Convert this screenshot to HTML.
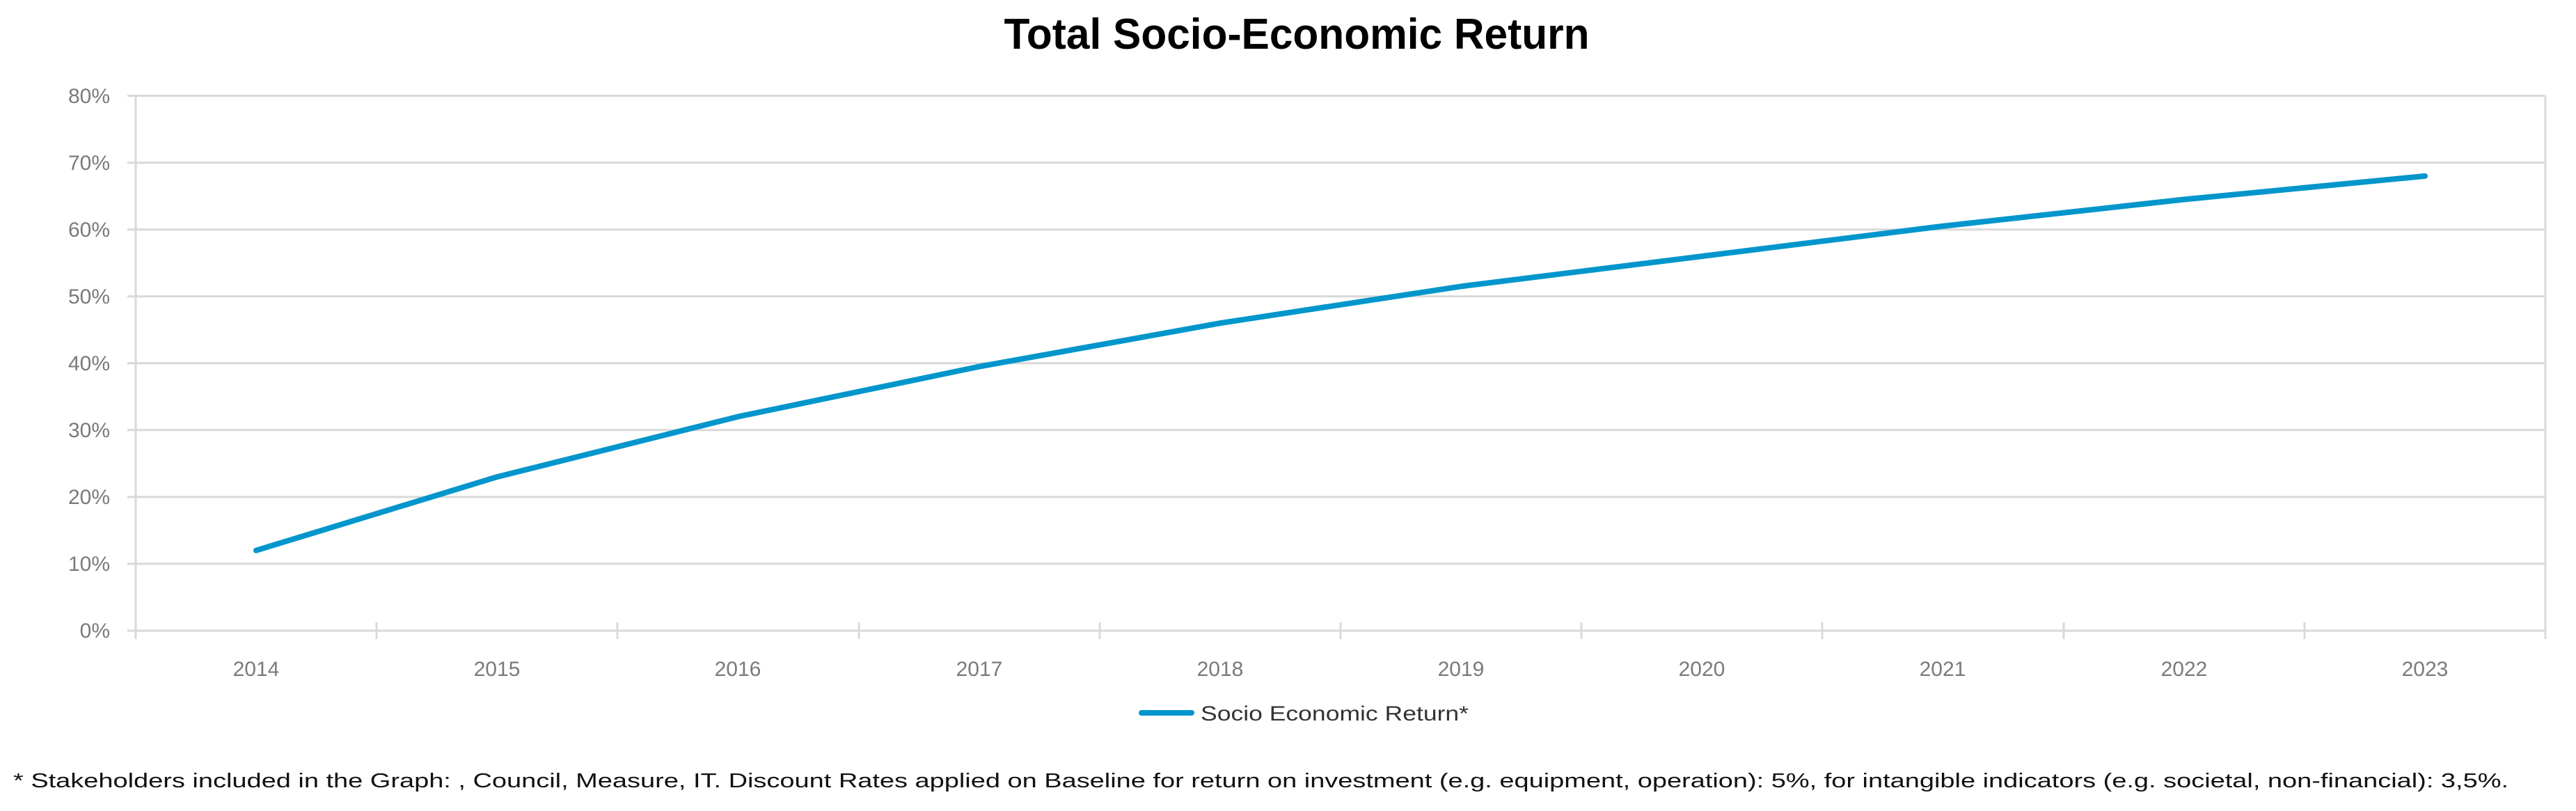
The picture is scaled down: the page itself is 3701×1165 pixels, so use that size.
<!DOCTYPE html>
<html><head><meta charset="utf-8"><style>html,body{margin:0;padding:0;background:#fff}</style></head>
<body>
<svg width="3701" height="1160" viewBox="0 0 3701 1160" xmlns="http://www.w3.org/2000/svg">
<rect width="3701" height="1160" fill="#fff"/>
<text x="1863" y="70" text-anchor="middle" font-family="Liberation Sans, sans-serif" font-weight="bold" font-size="62" textLength="841" lengthAdjust="spacingAndGlyphs" fill="#000">Total Socio-Economic Return</text>
<g stroke="#d9d9d9" stroke-width="3">
<line x1="183" y1="137.6" x2="3657" y2="137.6"/>
<line x1="183" y1="233.7" x2="3657" y2="233.7"/>
<line x1="183" y1="329.7" x2="3657" y2="329.7"/>
<line x1="183" y1="425.8" x2="3657" y2="425.8"/>
<line x1="183" y1="521.8" x2="3657" y2="521.8"/>
<line x1="183" y1="617.8" x2="3657" y2="617.8"/>
<line x1="183" y1="713.9" x2="3657" y2="713.9"/>
<line x1="183" y1="809.9" x2="3657" y2="809.9"/>
<line x1="183" y1="906" x2="3657" y2="906"/>
<line x1="195" y1="137.6" x2="195" y2="918"/>
<line x1="3657" y1="137.6" x2="3657" y2="918"/>
<line x1="541" y1="894" x2="541" y2="918"/><line x1="887" y1="894" x2="887" y2="918"/>
<line x1="1234" y1="894" x2="1234" y2="918"/><line x1="1580" y1="894" x2="1580" y2="918"/>
<line x1="1926" y1="894" x2="1926" y2="918"/><line x1="2272" y1="894" x2="2272" y2="918"/>
<line x1="2618" y1="894" x2="2618" y2="918"/><line x1="2965" y1="894" x2="2965" y2="918"/>
<line x1="3311" y1="894" x2="3311" y2="918"/>
</g>
<g font-family="Liberation Sans, sans-serif" font-size="30" fill="#7a7a7a" text-anchor="end">
<text x="158" y="148">80%</text><text x="158" y="244">70%</text><text x="158" y="340">60%</text>
<text x="158" y="436">50%</text><text x="158" y="532">40%</text><text x="158" y="628">30%</text>
<text x="158" y="724">20%</text><text x="158" y="820">10%</text><text x="158" y="916">0%</text>
</g>
<g font-family="Liberation Sans, sans-serif" font-size="30" fill="#7a7a7a" text-anchor="middle">
<text x="368" y="971">2014</text><text x="714" y="971">2015</text><text x="1060" y="971">2016</text>
<text x="1407" y="971">2017</text><text x="1753" y="971">2018</text><text x="2099" y="971">2019</text>
<text x="2445" y="971">2020</text><text x="2791" y="971">2021</text><text x="3138" y="971">2022</text>
<text x="3484" y="971">2023</text>
</g>
<polyline fill="none" stroke="#0096cc" stroke-width="8" stroke-linecap="round" stroke-linejoin="round"
points="368,790.7 714,685.1 1060,598.6 1407,526.6 1753,464.2 2099,411.4 2445,368.1 2791,324.9 3138,286.5 3484,252.9"/>
<line x1="1640" y1="1024" x2="1712" y2="1024" stroke="#0096cc" stroke-width="8" stroke-linecap="round"/>
<text x="1725" y="1035" font-family="Liberation Sans, sans-serif" font-size="30" fill="#333" textLength="385" lengthAdjust="spacingAndGlyphs">Socio Economic Return*</text>
<text x="19" y="1131" font-family="Liberation Sans, sans-serif" font-size="29" fill="#111" textLength="3585" lengthAdjust="spacingAndGlyphs">* Stakeholders included in the Graph: , Council, Measure, IT. Discount Rates applied on Baseline for return on investment (e.g. equipment, operation): 5%, for intangible indicators (e.g. societal, non-financial): 3,5%.</text>
</svg>
</body></html>
